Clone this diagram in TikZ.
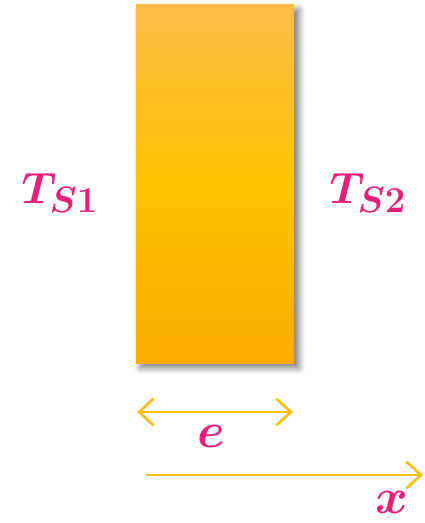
\documentclass[tikz,border=0pt]{standalone}
\usepackage{amsmath}
\usepackage{graphicx}
\usetikzlibrary{arrows.meta,shadows.blur}

\definecolor{slabtop}{RGB}{252,188,72}
\definecolor{slabmid}{RGB}{255,194,0}
\definecolor{slabbot}{RGB}{249,172,0}
\definecolor{tempink}{RGB}{233,30,122}
\definecolor{axisgold}{RGB}{255,190,10}

\pgfdeclareverticalshading{slabshade}{100bp}{
  color(0bp)=(slabbot); color(25bp)=(slabbot); color(50bp)=(slabmid);
  color(75bp)=(slabtop); color(100bp)=(slabtop)}

\begin{document}
\begin{tikzpicture}[
  x=0.75pt, y=-0.75pt,
  slab/.style={rectangle, minimum width=118.5pt, minimum height=268.5pt, inner sep=0pt,
    shading=slabshade,
    blur shadow={shadow xshift=3.5pt, shadow yshift=-3.5pt, shadow blur radius=5pt, shadow blur steps=10, shadow opacity=55}},
  temp/.style={text=tempink, inner sep=0pt, font=\fontsize{24.88}{30}\selectfont\boldmath},
  dimlabel/.style={text=tempink, inner sep=0pt, font=\fontsize{24.88}{30}\selectfont\boldmath},
  arrow/.style={-{Straight Barb[length=11pt, width=20pt, line width=2pt]}, draw=axisgold, line width=2pt}
]
\useasboundingbox (0,0) rectangle (424,523);

\node[slab] (wall) at (215,184) {};

\node[temp] (ts1) at (60,193) {\scalebox{1.32}{$T_{S1}$}};
\node[temp] (ts2) at (368,193) {\scalebox{1.32}{$T_{S2}$}};

% thickness e
\coordinate (eleft) at (137,412);
\coordinate (eright) at (293,412);
\draw[arrow, {Straight Barb[length=11pt, width=20pt, line width=2pt]}-{Straight Barb[length=11pt, width=20pt, line width=2pt]}] (eleft) -- (eright);
\node[dimlabel] (elabel) at (211,436) {\scalebox{1.5}{$e$}};

% x axis
\coordinate (xstart) at (146,475);
\coordinate (xend) at (423,475);
\draw[arrow] (xstart) -- (xend);
\node[dimlabel] (xlabel) at (392,502) {\scalebox{1.5}{$x$}};
\end{tikzpicture}
\end{document}
